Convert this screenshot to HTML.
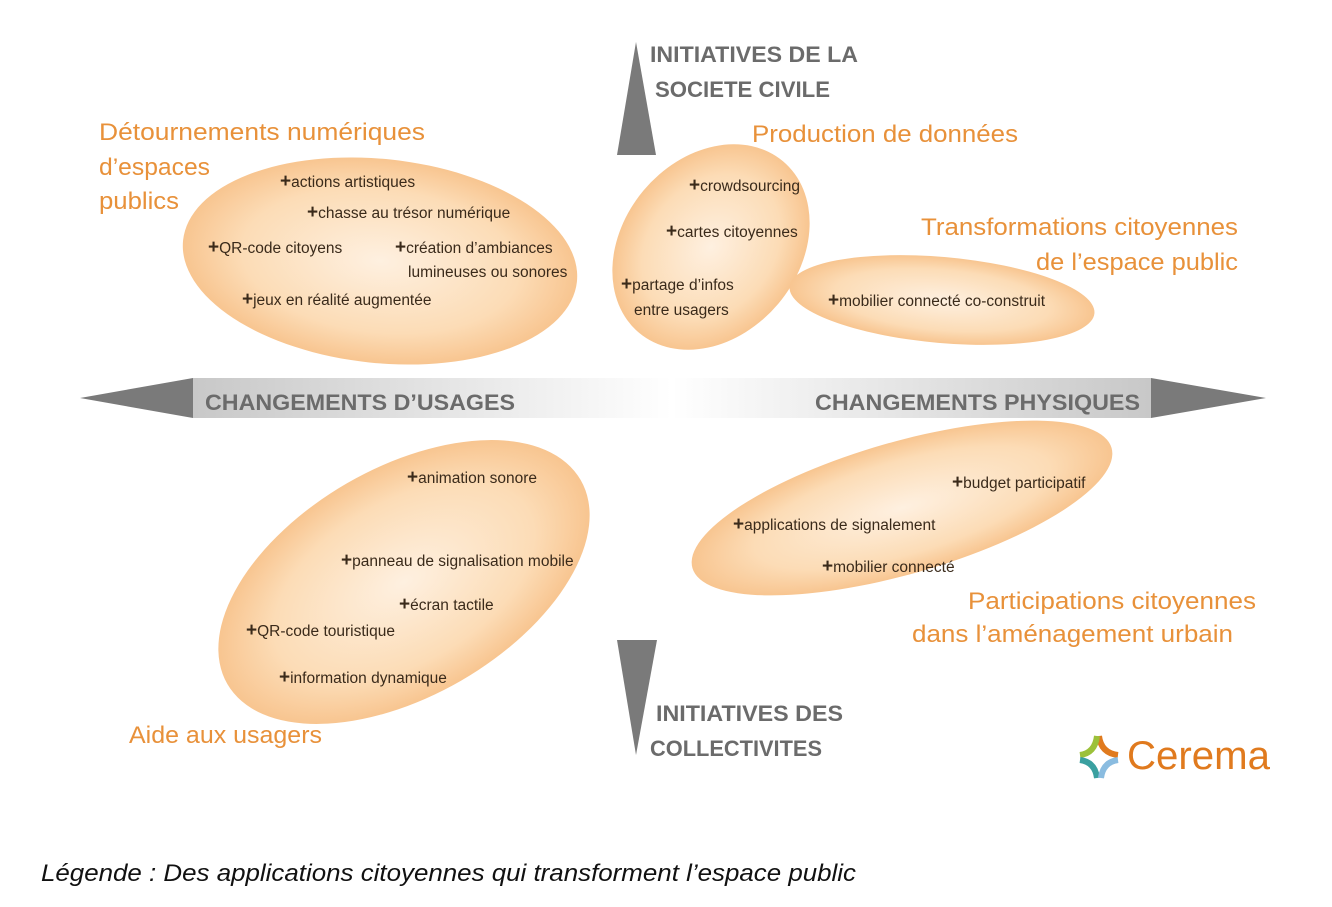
<!DOCTYPE html>
<html><head><meta charset="utf-8"><style>
body{margin:0;background:#fff;width:1332px;height:907px;overflow:hidden}
svg{display:block}
.o{font-family:"Liberation Sans",sans-serif;font-size:24px;fill:#e8913a}
.g{font-family:"Liberation Sans",sans-serif;font-size:22px;font-weight:bold;fill:#6b6b6b}
.t{font-family:"Liberation Sans",sans-serif;font-size:15.5px;fill:#3a2a1a}
.p{font-weight:bold;font-size:19px}
</style></head><body>
<svg width="1332" height="907" viewBox="0 0 1332 907">
<defs>
<radialGradient id="eg" cx="50%" cy="50%" r="50%">
<stop offset="0" stop-color="#fef0e0"/><stop offset="0.7" stop-color="#fcdcb6"/><stop offset="1" stop-color="#f8c590"/>
</radialGradient>
<linearGradient id="bar" x1="0" x2="1">
<stop offset="0" stop-color="#c8c8c8"/><stop offset="0.5" stop-color="#ffffff"/><stop offset="1" stop-color="#c8c8c8"/>
</linearGradient>
</defs>
<ellipse cx="380" cy="261" rx="198" ry="102" transform="rotate(6 380 261)" fill="url(#eg)"/>
<ellipse cx="711" cy="247" rx="112" ry="88" transform="rotate(-50 711 247)" fill="url(#eg)"/>
<ellipse cx="942" cy="300" rx="153" ry="43" transform="rotate(5 942 300)" fill="url(#eg)"/>
<ellipse cx="404" cy="582" rx="204" ry="114" transform="rotate(-30 404 582)" fill="url(#eg)"/>
<ellipse cx="902" cy="508" rx="218" ry="66" transform="rotate(-16 902 508)" fill="url(#eg)"/>
<rect x="193" y="378" width="958" height="40" fill="url(#bar)"/>
<polygon points="80,398 193,378 193,418" fill="#7a7a7a"/>
<polygon points="1151,378 1266,398 1151,418" fill="#7a7a7a"/>
<polygon points="636,42 617,155 656,155" fill="#7a7a7a"/>
<polygon points="617,640 657,640 636,755" fill="#7a7a7a"/>
<g lengthAdjust="spacingAndGlyphs">
<text class="g" x="650" y="62" textLength="208" lengthAdjust="spacingAndGlyphs">INITIATIVES DE LA</text>
<text class="g" x="655" y="97" textLength="175" lengthAdjust="spacingAndGlyphs">SOCIETE CIVILE</text>
<text class="g" x="205" y="410" textLength="310" lengthAdjust="spacingAndGlyphs">CHANGEMENTS D’USAGES</text>
<text class="g" x="815" y="410" textLength="325" lengthAdjust="spacingAndGlyphs">CHANGEMENTS PHYSIQUES</text>
<text class="g" x="656" y="721" textLength="187" lengthAdjust="spacingAndGlyphs">INITIATIVES DES</text>
<text class="g" x="650" y="756" textLength="172" lengthAdjust="spacingAndGlyphs">COLLECTIVITES</text>
<text class="o" x="99" y="140" textLength="326" lengthAdjust="spacingAndGlyphs">Détournements numériques</text>
<text class="o" x="99" y="175" textLength="111" lengthAdjust="spacingAndGlyphs">d’espaces</text>
<text class="o" x="99" y="209" textLength="80" lengthAdjust="spacingAndGlyphs">publics</text>
<text class="o" x="752" y="142" textLength="266" lengthAdjust="spacingAndGlyphs">Production de données</text>
<text class="o" x="921" y="235" textLength="317" lengthAdjust="spacingAndGlyphs">Transformations citoyennes</text>
<text class="o" x="1036" y="270" textLength="202" lengthAdjust="spacingAndGlyphs">de l’espace public</text>
<text class="o" x="968" y="609" textLength="288" lengthAdjust="spacingAndGlyphs">Participations citoyennes</text>
<text class="o" x="912" y="642" textLength="321" lengthAdjust="spacingAndGlyphs">dans l’aménagement urbain</text>
<text class="o" x="129" y="743" textLength="193" lengthAdjust="spacingAndGlyphs">Aide aux usagers</text>
</g>
<g class="t">
<text x="280" y="187"><tspan class="p">+</tspan>actions artistiques</text>
<text x="307" y="218"><tspan class="p">+</tspan>chasse au trésor numérique</text>
<text x="208" y="253"><tspan class="p">+</tspan>QR-code citoyens</text>
<text x="395" y="253"><tspan class="p">+</tspan>création d’ambiances</text>
<text x="408" y="277">lumineuses ou sonores</text>
<text x="242" y="305"><tspan class="p">+</tspan>jeux en réalité augmentée</text>
<text x="689" y="191"><tspan class="p">+</tspan>crowdsourcing</text>
<text x="666" y="237"><tspan class="p">+</tspan>cartes citoyennes</text>
<text x="621" y="290"><tspan class="p">+</tspan>partage d’infos</text>
<text x="634" y="315">entre usagers</text>
<text x="828" y="306"><tspan class="p">+</tspan>mobilier connecté co-construit</text>
<text x="952" y="488"><tspan class="p">+</tspan>budget participatif</text>
<text x="733" y="530"><tspan class="p">+</tspan>applications de signalement</text>
<text x="822" y="572"><tspan class="p">+</tspan>mobilier connecté</text>
<text x="407" y="483"><tspan class="p">+</tspan>animation sonore</text>
<text x="341" y="566"><tspan class="p">+</tspan>panneau de signalisation mobile</text>
<text x="399" y="610"><tspan class="p">+</tspan>écran tactile</text>
<text x="246" y="636"><tspan class="p">+</tspan>QR-code touristique</text>
<text x="279" y="683"><tspan class="p">+</tspan>information dynamique</text>
</g>
<g fill="none" stroke-width="6" stroke-linecap="butt">
<path d="M1099 736 Q1101 753 1118 755" stroke="#e07a1e"/>
<path d="M1080 755 Q1095 753 1097 736" stroke="#9cc13a"/>
<path d="M1080 760 Q1095 762 1097 778" stroke="#3aa0a0"/>
<path d="M1118 760 Q1103 762 1101 778" stroke="#8abce0"/>
</g>
<text x="1127" y="769" textLength="143" lengthAdjust="spacingAndGlyphs" style="font-family:'Liberation Sans',sans-serif;font-size:40px;fill:#e07a1e">Cerema</text>
<text x="41" y="881" textLength="815" lengthAdjust="spacingAndGlyphs" style="font-family:'Liberation Sans',sans-serif;font-size:24px;font-style:italic;fill:#111">Légende : Des applications citoyennes qui transforment l’espace public</text>
</svg>
</body></html>
